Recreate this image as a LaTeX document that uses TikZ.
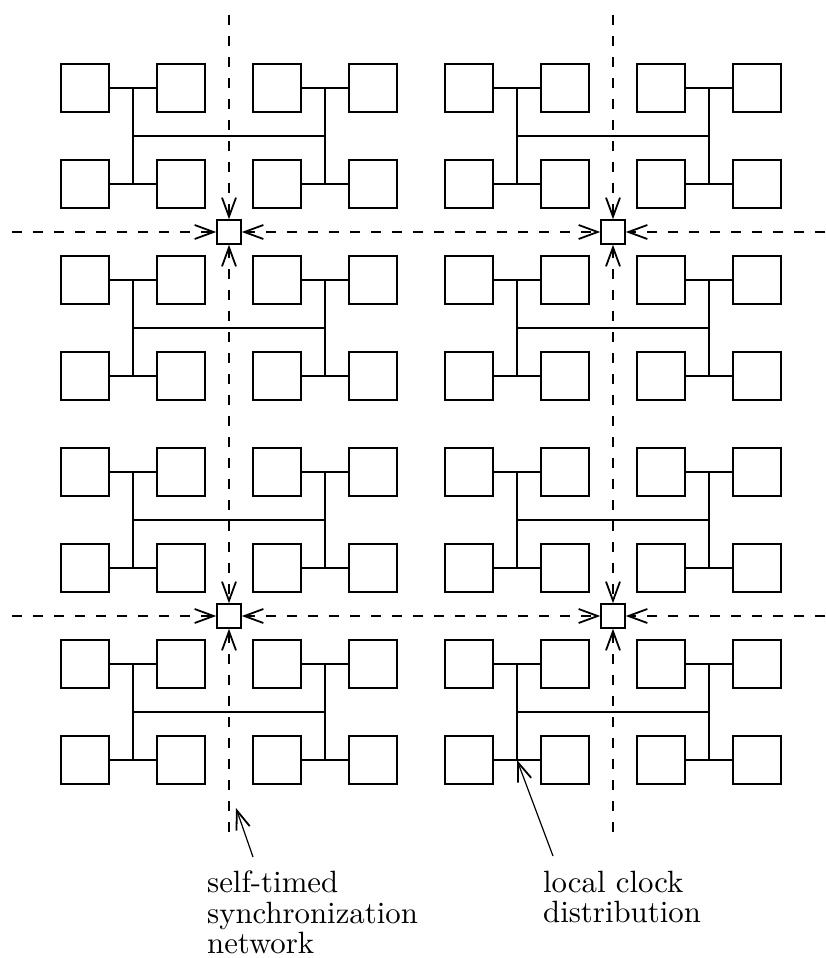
\documentclass[tikz,border=0pt]{standalone}
\usetikzlibrary{arrows.meta}
\begin{document}
\begin{tikzpicture}[x=0.5pt,y=-0.5pt,line width=0.75pt,
  >={Straight Barb[length=9.5pt,width=7pt,line width=0.9pt]},
  cell/.style={draw,minimum size=24pt,inner sep=0pt},
  syncbox/.style={draw,minimum size=12pt,inner sep=0pt},
  syncline/.style={dash pattern=on 5pt off 5.5pt},
  labeltext/.style={font=\fontsize{10}{9.8}\selectfont,scale=1.54,align=left,inner sep=0pt,anchor=north west},
  pointer/.style={->,line width=0.6pt}]
\useasboundingbox (0,0) rectangle (825,958);
% cells
\foreach \i in {0,...,7}{
  \foreach \j in {0,...,7}{
    \node[cell] (sq-\i-\j) at ({85+96*\i},{88+96*\j}) {};
  }
}
% local clock H-trees
\foreach \bc in {0,1}{
  \foreach \br in {0,1,2,3}{
    \pgfmathtruncatemacro\rowA{2*\br}
    \pgfmathtruncatemacro\rowB{2*\br+1}
    \foreach \k in {0,2}{
      \pgfmathtruncatemacro\colA{4*\bc+\k}
      \pgfmathtruncatemacro\colB{4*\bc+\k+1}
      \draw (sq-\colA-\rowA.east) -- coordinate (j-\colA-\rowA) (sq-\colB-\rowA.west);
      \draw (sq-\colA-\rowB.east) -- coordinate (j-\colA-\rowB) (sq-\colB-\rowB.west);
      \draw (j-\colA-\rowA) -- coordinate (v-\colA-\br) (j-\colA-\rowB);
    }
    \pgfmathtruncatemacro\colL{4*\bc}
    \pgfmathtruncatemacro\colR{4*\bc+2}
    \draw (v-\colL-\br) -- (v-\colR-\br);
  }
}
% synchronization elements
\node[syncbox] (sync-a) at (229,232) {};
\node[syncbox] (sync-b) at (613,232) {};
\node[syncbox] (sync-c) at (229,616) {};
\node[syncbox] (sync-d) at (613,616) {};
\coordinate (vt-l) at (229,15);
\coordinate (vb-l) at (229,832);
\coordinate (vt-r) at (613,15);
\coordinate (vb-r) at (613,832);
\coordinate (hl-t) at (12,232);
\coordinate (hr-t) at (825,232);
\coordinate (hl-b) at (12,616);
\coordinate (hr-b) at (825,616);
\draw[syncline,->] (vt-l) -- (sync-a.north);
\draw[syncline,<->] (sync-a.south) -- (sync-c.north);
\draw[syncline,->] (vb-l) -- (sync-c.south);
\draw[syncline,->] (vt-r) -- (sync-b.north);
\draw[syncline,<->] (sync-b.south) -- (sync-d.north);
\draw[syncline,->] (vb-r) -- (sync-d.south);
\draw[syncline,->] (hl-t) -- (sync-a.west);
\draw[syncline,<->] (sync-a.east) -- (sync-b.west);
\draw[syncline,->] (hr-t) -- (sync-b.east);
\draw[syncline,->] (hl-b) -- (sync-c.west);
\draw[syncline,<->] (sync-c.east) -- (sync-d.west);
\draw[syncline,->] (hr-b) -- (sync-d.east);
% labels
\node[labeltext] (lbl-sync) at (206,870) {self-timed\\synchronization\\network};
\node[labeltext] (lbl-clock) at (542,870) {local clock\\distribution};
\coordinate (sync-pt) at (236,808);
\draw[pointer] ([shift={(47,-13)}]lbl-sync.north west) -- (sync-pt);
\draw[pointer] ([shift={(11,-14)}]lbl-clock.north west) -- (j-4-7);
\end{tikzpicture}
\end{document}
